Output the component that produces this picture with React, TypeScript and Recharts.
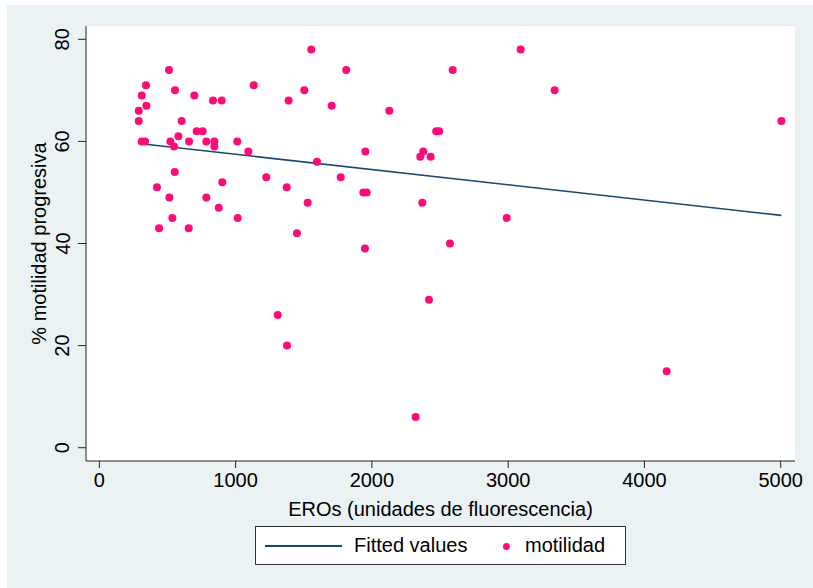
import { Label, Scatter, ScatterChart, XAxis, YAxis, CartesianGrid } from 'recharts'

// EROs (x) and % motilidad progresiva (y), one entry per sample
const eros = [
  1555, 511, 342, 1133, 311, 555, 1504, 697, 834, 898, 1389, 289, 345, 1705, 289, 604, 714, 758,
  311, 335, 521, 580, 548, 658, 785, 844, 844, 1012, 1093, 1597, 553, 1225, 423, 1375, 902, 514,
  785, 1529, 876, 536, 1015, 438, 656, 1450, 1771, 1309, 1377, 1812, 2593, 2128, 2472, 2494, 1952,
  2377, 2355, 2431, 1937, 1962, 2370, 2573, 1949, 2419, 2321, 3092, 3341, 5005, 2989, 4163,
]
const motilidad = [
  78, 74, 71, 71, 69, 70, 70, 69, 68, 68, 68, 66, 67, 67, 64, 64, 62, 62,
  60, 60, 60, 61, 59, 60, 60, 60, 59, 60, 58, 56, 54, 53, 51, 51, 52, 49,
  49, 48, 47, 45, 45, 43, 43, 42, 53, 26, 20, 74, 74, 66, 62, 62, 58,
  58, 57, 57, 50, 50, 48, 40, 39, 29, 6, 78, 70, 64, 45, 15,
]

// fitted line end points
const fitX = [289, 5005]
const fitY = [59.6, 45.5]

const xTicks = [0, 1000, 2000, 3000, 4000, 5000]
const yTicks = [0, 20, 40, 60, 80]

const points = eros.map((x, i) => ({ x, y: motilidad[i] }))
const fitted = fitX.map((x, i) => ({ x, y: fitY[i] }))

const NAVY = '#1a476f'
const PINK = '#ff0a78'
const BG = '#eaf2f3'
const FONT = '"Liberation Sans", Arial, Helvetica, sans-serif'

function YTick({ x, y, payload }: any) {
  const cx = x - 15.5
  return (
    <text
      x={cx}
      y={y}
      transform={`rotate(-90, ${cx}, ${y})`}
      textAnchor="middle"
      dominantBaseline="central"
      fontSize={20}
      fontFamily={FONT}
      fill="#000"
    >
      {payload.value}
    </text>
  )
}

function Dot({ cx, cy }: any) {
  if (cx == null || cy == null) return null
  return <circle cx={cx} cy={cy} r={4} fill={PINK} />
}

export default function App() {
  return (
    <div style={{ position: 'absolute', left: 0, top: 0, width: 813, height: 588, background: '#fff', overflow: 'hidden' }}>
      <div style={{ position: 'absolute', left: 7, top: 5, width: 806, height: 583, background: BG }} />
      <div style={{ position: 'absolute', left: 0, top: 0 }}>
        <ScatterChart width={813} height={588} margin={{ top: 26, right: 18, bottom: 97, left: 56 }}>
          <rect x={86} y={26} width={709} height={435} fill="#fff" />
          <CartesianGrid vertical={false} stroke="#e3ebed" strokeWidth={1.5} fill="#fff" />
          <XAxis
            type="number"
            dataKey="x"
            domain={[-98, 5105]}
            ticks={xTicks}
            allowDataOverflow
            height={30}
            tickSize={7}
            tickMargin={5}
            stroke="#222"
            tick={{ fontSize: 20, fontFamily: FONT, fill: '#000' }}
          >
            <Label
              content={({ viewBox }: any) => (
                <text
                  x={viewBox.x + viewBox.width / 2}
                  y={viewBox.y + 54.5}
                  textAnchor="middle"
                  fontSize={20}
                  fontFamily={FONT}
                  fill="#000"
                >
                  EROs (unidades de fluorescencia)
                </text>
              )}
            />
          </XAxis>
          <YAxis
            type="number"
            dataKey="y"
            domain={[-2.6, 82.6]}
            ticks={yTicks}
            allowDataOverflow
            width={30}
            tickSize={8}
            tickMargin={0}
            stroke="#222"
            tick={<YTick />}
          >
            <Label
              content={({ viewBox }: any) => {
                const lx = viewBox.x - 10
                const ly = viewBox.y + viewBox.height / 2
                return (
                  <text
                    x={lx}
                    y={ly}
                    transform={`rotate(-90, ${lx}, ${ly})`}
                    textAnchor="middle"
                    fontSize={20}
                    fontFamily={FONT}
                    fill="#000"
                  >
                    % motilidad progresiva
                  </text>
                )
              }}
            />
          </YAxis>
          <Scatter
            name="Fitted values"
            data={fitted}
            line={{ stroke: NAVY, strokeWidth: 1.6 }}
            shape={() => null}
            isAnimationActive={false}
          />
          <Scatter name="motilidad" data={points} shape={<Dot />} isAnimationActive={false} />
        </ScatterChart>
      </div>
      <div
        style={{
          position: 'absolute',
          left: 255,
          top: 526,
          width: 369,
          height: 37,
          background: '#fff',
          border: '1px solid #333',
          fontFamily: FONT,
          fontSize: 20,
          color: '#000',
        }}
      >
        <div style={{ position: 'absolute', left: 9, top: 18, width: 77, height: 1.6, background: NAVY }} />
        <div style={{ position: 'absolute', left: 98, top: 6, lineHeight: '24px' }}>Fitted values</div>
        <div style={{ position: 'absolute', left: 247, top: 15.5, width: 7, height: 7, borderRadius: '50%', background: PINK }} />
        <div style={{ position: 'absolute', left: 269, top: 6, lineHeight: '24px' }}>motilidad</div>
      </div>
    </div>
  )
}
